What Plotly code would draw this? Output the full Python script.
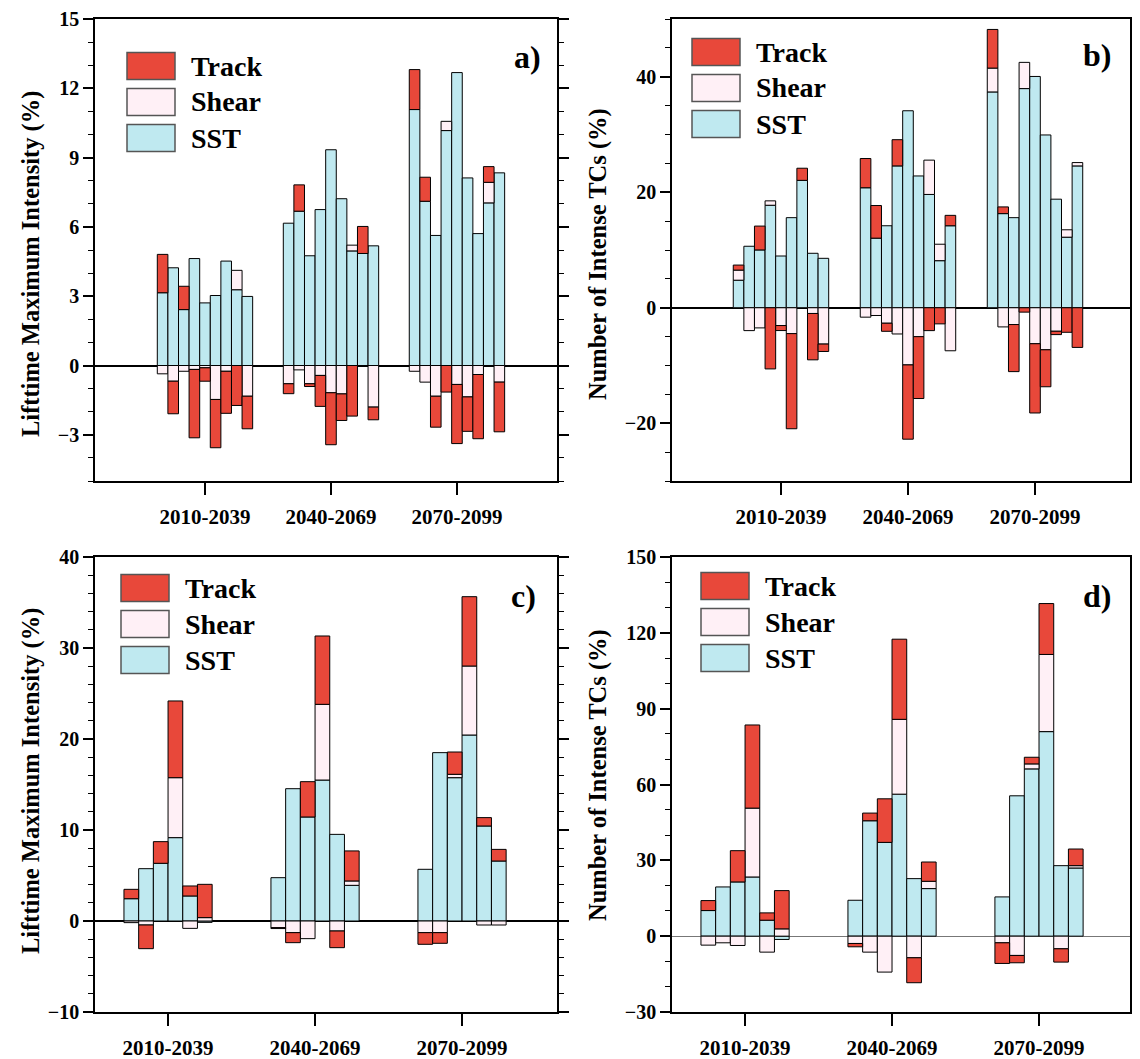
import numpy as np
import plotly.graph_objects as go

categories = ["2010-2039", "2040-2069", "2070-2099"]

# ---------------- Panel a: Lifetime maximum intensity (%) ----------------
a_sst = [3.15, 4.23, 2.42, 4.63, 2.71, 3.03, 4.52, 3.28, 2.99,
         6.16, 6.68, 4.75, 6.75, 9.34, 7.22, 4.96, 4.85, 5.18,
         11.08, 7.11, 5.63, 10.17, 12.68, 8.12, 5.71, 7.04, 8.34]
a_shear = [-0.36, -0.68, -0.25, -0.17, -0.10, -1.47, -0.25, 0.84, -1.33,
           -0.79, -0.19, -0.79, -0.43, -1.18, -1.23, 0.25, 0.0, -1.80,
           -0.25, -0.72, -1.33, 0.40, -0.82, -1.36, -0.39, 0.89, -0.72]
a_track = [1.66, -1.41, 1.01, -2.96, -0.58, -2.09, -1.82, -1.73, -1.41,
           -0.43, 1.14, -0.12, -1.34, -2.25, -1.15, -2.19, 1.17, -0.55,
           1.73, 1.04, -1.34, -1.15, -2.56, -1.49, -2.78, 0.68, -2.15]

# ---------------- Panel b: Number of intense TCs (%) ----------------
b_sst = [4.77, 10.65, 10.01, 17.75, 8.96, 15.60, 22.06, 9.43, 8.56,
         20.78, 12.05, 14.20, 24.56, 34.11, 22.82, 19.62, 8.15, 14.20,
         37.37, 16.30, 15.60, 37.95, 40.05, 29.92, 18.80, 12.22, 24.56]
b_shear = [1.75, -3.96, -3.49, 0.76, -3.08, -4.48, 0.0, -0.99, -6.29,
           -1.63, -1.34, -2.68, -4.54, -9.90, -5.01, 5.94, 2.85, -7.45,
           4.13, -3.32, -2.91, 4.54, -6.23, -7.28, -4.07, 1.28, 0.58]
b_track = [0.87, 0.0, 4.13, -10.59, -0.87, -16.47, 2.10, -8.03, -1.28,
           5.06, 5.65, -1.40, 4.54, -12.86, -10.71, -3.96, -2.79, 1.80,
           6.69, 1.16, -8.15, -0.76, -11.99, -6.40, -0.58, -4.25, -6.87]

# ---------------- Panel c: Lifetime maximum intensity (%) ----------------
c_sst = [2.45, 5.75, 6.34, 9.16, 2.75, -0.15,
         4.76, 14.54, 11.43, 15.49, 9.52, 3.92,
         5.68, 18.50, 15.75, 20.44, 10.44, 6.59]
c_shear = [-0.18, -0.44, 0.0, 6.59, -0.81, 0.37,
           -0.73, -1.28, -1.94, 8.32, -1.10, 0.48,
           -1.28, -1.28, 0.37, 7.58, -0.44, -0.44]
c_track = [1.03, -2.60, 2.38, 8.43, 1.10, 3.66,
           -0.10, -1.10, 3.88, 7.51, -1.83, 3.30,
           -1.28, -1.17, 2.45, 7.62, 0.92, 1.28]

# ---------------- Panel d: Number of intense TCs (%) ----------------
d_sst = [10.13, 19.47, 21.45, 23.42, 6.32, -1.30,
         14.21, 45.66, 37.10, 56.18, 22.76, 18.82,
         15.53, 55.53, 66.18, 80.92, 27.89, 26.97]
d_shear = [-3.55, -2.63, -3.68, 27.24, -6.32, 2.89,
           -2.89, -6.32, -14.21, 29.60, -8.55, 2.89,
           -2.63, -7.63, 1.97, 30.53, -5.00, 0.92]
d_track = [3.95, 0.0, 12.37, 32.89, 2.89, 15.13,
           -1.32, 3.03, 17.24, 31.70, -9.87, 7.63,
           -8.16, -2.90, 2.63, 20.13, -5.26, 6.58]

# ---------------- styling ----------------
OFF = 8                      # page body margin of the html page
W, H = 1140 - OFF, 1059 - OFF
FONT = "Liberation Serif"
COL = {"SST": "#BFE9F0", "Shear": "#FFF0F6", "Track": "#E8483A"}


def px_x(p):
    return (p - OFF) / W


def px_y(p):
    return 1 - (p - OFF) / H


panels = [
    dict(name="a", sst=a_sst, shear=a_shear, track=a_track, n=9, w=0.0841,
         xdom=(95, 557), ydom=(19, 481), xr=(0.127, 3.794), yr=(-5, 15), dt=3, mdt=1,
         ytitle="Lifttime Maximum Intensity (%)", tx=31, ty=264, zc="black", zw=2,
         leg=(127, 66), lab=(527, 57)),
    dict(name="b", sst=b_sst, shear=b_shear, track=b_track, n=9, w=0.0835,
         xdom=(672, 1130), ydom=(19, 481), xr=(0.142, 3.748), yr=(-30, 50), dt=20, mdt=5,
         ytitle="Number of Intense TCs (%)", tx=598, ty=254, zc="black", zw=2,
         leg=(692, 52), lab=(1097, 55)),
    dict(name="c", sst=c_sst, shear=c_shear, track=c_track, n=6, w=0.1,
         xdom=(95, 557), ydom=(557, 1012), xr=(0.503, 3.646), yr=(-10, 40), dt=10, mdt=2,
         ytitle="Lifttime Maximum Intensity (%)", tx=31, ty=781, zc="black", zw=2,
         leg=(121, 588), lab=(523, 596)),
    dict(name="d", sst=d_sst, shear=d_shear, track=d_track, n=6, w=0.1,
         xdom=(672, 1130), ydom=(557, 1012), xr=(0.503, 3.619), yr=(-30, 150), dt=30, mdt=10,
         ytitle="Number of Intense TCs (%)", tx=598, ty=775, zc="#777777", zw=1.2,
         leg=(701, 586), lab=(1097, 596)),
]

fig = go.Figure()
layout = dict(
    width=W, height=H, margin=dict(l=0, r=0, t=0, b=0, pad=0, autoexpand=False),
    paper_bgcolor="white", plot_bgcolor="white",
    barmode="relative", showlegend=False,
    font=dict(family=FONT, color="black"),
)
shapes = []
annotations = []

for k, p in enumerate(panels):
    idx = "" if k == 0 else str(k + 1)
    xa, ya = "x" + idx, "y" + idx
    n = p["n"]
    xs = []
    for g in range(len(categories)):
        for i in range(n):
            xs.append(g + 1 + (i - (n - 1) / 2) * p["w"])
    for nm, vals in (("SST", p["sst"]), ("Shear", p["shear"]), ("Track", p["track"])):
        yv = [v if v != 0 else None for v in vals]
        fig.add_trace(go.Bar(
            x=xs, y=yv, width=p["w"], name=nm, xaxis=xa, yaxis=ya,
            marker=dict(color=COL[nm], line=dict(color="black", width=1)),
            hoverinfo="skip",
        ))
    layout["xaxis" + idx] = dict(
        domain=[px_x(p["xdom"][0]), px_x(p["xdom"][1])], range=list(p["xr"]),
        anchor=ya, tickvals=[1, 2, 3], ticktext=categories,
        ticks="outside", ticklen=12, tickwidth=1.5, tickcolor="black",
        ticklabelstandoff=4, automargin=False,
        showline=True, linecolor="black", linewidth=1.5, mirror=True,
        showgrid=False, zeroline=False,
        tickfont=dict(family=FONT, size=21, weight="bold", color="black"),
    )
    layout["yaxis" + idx] = dict(
        domain=[px_y(p["ydom"][1]), px_y(p["ydom"][0])], range=list(p["yr"]),
        anchor=xa, tick0=0, dtick=p["dt"], automargin=False,
        ticks="outside", ticklen=10, tickwidth=1.5, tickcolor="black",
        minor=dict(dtick=p["mdt"], ticks="outside", ticklen=5, tickcolor="black", tickwidth=1),
        showline=True, linecolor="black", linewidth=1.5, mirror="ticks",
        showgrid=False, zeroline=True, zerolinecolor=p["zc"], zerolinewidth=p["zw"],
        tickfont=dict(family=FONT, size=20, weight="bold", color="black"),
    )
    # y-axis title
    annotations.append(dict(
        x=px_x(p["tx"]), y=px_y(p["ty"]), xref="paper", yref="paper",
        text="<b>" + p["ytitle"] + "</b>", textangle=-90, showarrow=False,
        font=dict(family=FONT, size=24.5, color="black"),
        xanchor="center", yanchor="middle"))
    # panel label
    annotations.append(dict(
        x=px_x(p["lab"][0]), y=px_y(p["lab"][1]), xref="paper", yref="paper",
        text="<b>" + p["name"] + ")</b>", showarrow=False,
        font=dict(family=FONT, size=32, color="black"),
        xanchor="center", yanchor="middle"))
    # legend (drawn boxes + labels)
    lx, ly = p["leg"]
    for j, nm in enumerate(["Track", "Shear", "SST"]):
        cy = ly + j * 36
        shapes.append(dict(
            type="rect", xref="paper", yref="paper",
            x0=px_x(lx), x1=px_x(lx + 48), y0=px_y(cy + 13.5), y1=px_y(cy - 13.5),
            fillcolor=COL[nm], line=dict(color="#555555", width=1.5)))
        annotations.append(dict(
            x=px_x(lx + 62), y=px_y(cy), xref="paper", yref="paper",
            text="<b>" + nm + "</b>", showarrow=False,
            font=dict(family=FONT, size=28, color="black"),
            xanchor="left", yanchor="middle"))

layout["shapes"] = shapes
layout["annotations"] = annotations
fig.update_layout(**layout)
fig.write_html("out.html")
